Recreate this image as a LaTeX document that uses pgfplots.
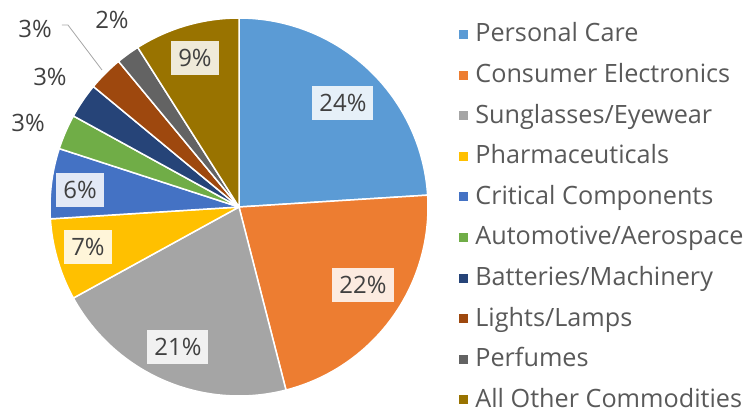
\documentclass[border=0pt]{standalone}
\usepackage{fontspec}
\setmainfont{Open Sans}
\usepackage{pgfplots}
\pgfplotsset{compat=1.18}
\definecolor{c1}{HTML}{5B9BD5}
\definecolor{c2}{HTML}{ED7D31}
\definecolor{c3}{HTML}{A5A5A5}
\definecolor{c4}{HTML}{FFC000}
\definecolor{c5}{HTML}{4472C4}
\definecolor{c6}{HTML}{70AD47}
\definecolor{c7}{HTML}{264478}
\definecolor{c8}{HTML}{9E480E}
\definecolor{c9}{HTML}{636363}
\definecolor{c10}{HTML}{997300}
\definecolor{legtext}{HTML}{595959}
\definecolor{labtext}{HTML}{404040}
\begin{document}
\begin{tikzpicture}[
  lab/.style={fill=white, fill opacity=0.85, text opacity=1, inner xsep=7bp, inner ysep=8bp,
    text=labtext, font=\fontsize{24}{29}\selectfont},
  olab/.style={text=labtext, inner sep=0pt, font=\fontsize{24}{29}\selectfont}]
\begin{axis}[
  width=754bp, height=414bp, scale only axis,
  xmin=-1.26455, xmax=2.72487, ymin=-1.09524, ymax=1.09524,
  hide axis, clip=false,
  every axis plot/.append style={draw=white, line width=1.5bp, line join=round},
  legend image code/.code={\fill[#1,draw=none] (0bp,-4.5bp) rectangle (9bp,4.5bp);},
  legend cell align=left,
  legend style={at={(axis description cs:0.609,0.945)}, anchor=north west,
    draw=none, fill=none, inner sep=0pt, row sep=17.6bp, column sep=3bp,
    font=\fontsize{25.3}{29}\selectfont, text=legtext,
    nodes={inner xsep=4bp, inner ysep=0pt, text height=19bp, text depth=4bp}},
]
% slices: domain = cumulative percentage range
\addplot[fill=c1, domain=0:24, samples=80, variable=\t] ({sin(3.6*\t)},{cos(3.6*\t)}) -- (axis cs:0,0) -- cycle;
\addplot[fill=c2, domain=24:46, samples=80, variable=\t] ({sin(3.6*\t)},{cos(3.6*\t)}) -- (axis cs:0,0) -- cycle;
\addplot[fill=c3, domain=46:67, samples=80, variable=\t] ({sin(3.6*\t)},{cos(3.6*\t)}) -- (axis cs:0,0) -- cycle;
\addplot[fill=c4, domain=67:74, samples=40, variable=\t] ({sin(3.6*\t)},{cos(3.6*\t)}) -- (axis cs:0,0) -- cycle;
\addplot[fill=c5, domain=74:80, samples=40, variable=\t] ({sin(3.6*\t)},{cos(3.6*\t)}) -- (axis cs:0,0) -- cycle;
\addplot[fill=c6, domain=80:83, samples=30, variable=\t] ({sin(3.6*\t)},{cos(3.6*\t)}) -- (axis cs:0,0) -- cycle;
\addplot[fill=c7, domain=83:86, samples=30, variable=\t] ({sin(3.6*\t)},{cos(3.6*\t)}) -- (axis cs:0,0) -- cycle;
\addplot[fill=c8, domain=86:89, samples=30, variable=\t] ({sin(3.6*\t)},{cos(3.6*\t)}) -- (axis cs:0,0) -- cycle;
\addplot[fill=c9, domain=89:91, samples=30, variable=\t] ({sin(3.6*\t)},{cos(3.6*\t)}) -- (axis cs:0,0) -- cycle;
\addplot[fill=c10, domain=91:100, samples=50, variable=\t] ({sin(3.6*\t)},{cos(3.6*\t)}) -- (axis cs:0,0) -- cycle;
\legend{Personal Care, Consumer Electronics, Sunglasses/Eyewear, Pharmaceuticals,
  Critical Components, Automotive/Aerospace, Batteries/Machinery, Lights/Lamps,
  Perfumes, All Other Commodities}
% leader line
\addplot[forget plot, draw=gray!70, line width=0.8bp] coordinates {(-0.937,0.963) (-0.905,0.963) (-0.725,0.725)};
% data labels
\node[lab] at (axis cs:0.550,0.550) {24\%};
\node[lab] at (axis cs:0.656,-0.413) {22\%};
\node[lab] at (axis cs:-0.323,-0.741) {21\%};
\node[lab] at (axis cs:-0.799,-0.212) {7\%};
\node[lab] at (axis cs:-0.841,0.090) {6\%};
\node[lab] at (axis cs:-0.233,0.788) {9\%};
\node[olab] at (axis cs:-1.116,0.444) {3\%};
\node[olab] at (axis cs:-1.000,0.688) {3\%};
\node[olab] at (axis cs:-1.079,0.942) {3\%};
\node[olab] at (axis cs:-0.672,0.989) {2\%};
\end{axis}
\pgfresetboundingbox
\path (current axis.south west) rectangle (current axis.north east);
\end{tikzpicture}
\end{document}
